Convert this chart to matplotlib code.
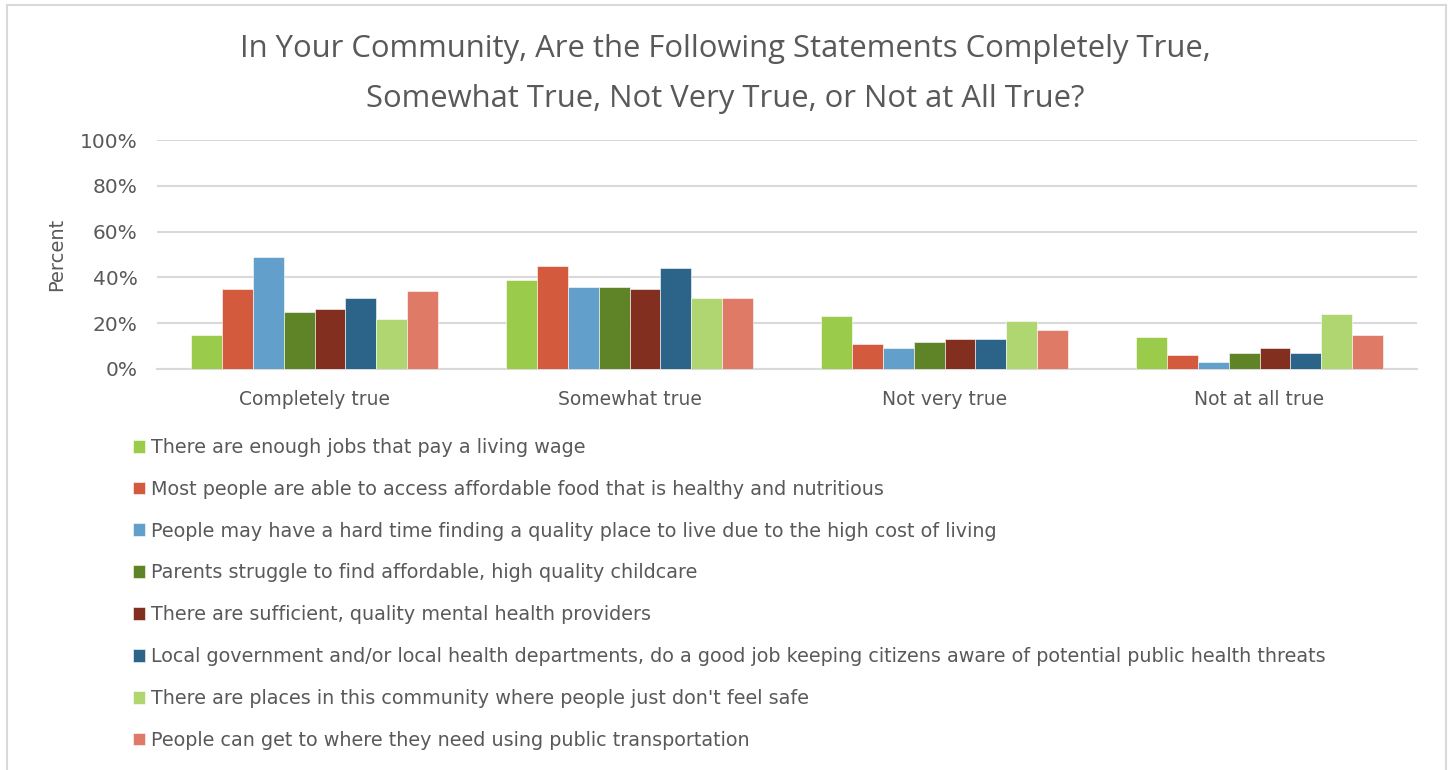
import matplotlib
matplotlib.use('Agg')
import matplotlib.pyplot as plt
from matplotlib.patches import Rectangle
import numpy as np

categories = ['Completely true', 'Somewhat true', 'Not very true', 'Not at all true']
statements = [
    'There are enough jobs that pay a living wage',
    'Most people are able to access affordable food that is healthy and nutritious',
    'People may have a hard time finding a quality place to live due to the high cost of living',
    'Parents struggle to find affordable, high quality childcare',
    'There are sufficient, quality mental health providers',
    'Local government and/or local health departments, do a good job keeping citizens aware of potential public health threats',
    "There are places in this community where people just don't feel safe",
    'People can get to where they need using public transportation',
]
values = [
    [15, 39, 23, 14],
    [35, 45, 11, 6],
    [49, 36, 9, 3],
    [25, 36, 12, 7],
    [26, 35, 13, 9],
    [31, 44, 13, 7],
    [22, 31, 21, 24],
    [34, 31, 17, 15],
]
colors = ['#9BCB4B', '#D45A3E', '#62A0CB', '#5F8427',
          '#832F20', '#2C6389', '#AFD670', '#DE7A66']
yticks = [0, 20, 40, 60, 80, 100]

txt = '#595959'
W, H = 1450, 770
fig = plt.figure(figsize=(W / 100, H / 100), dpi=100)
ax = fig.add_axes([157 / W, 1 - 369 / H, (1417 - 157) / W, (369 - 140) / H])

x = np.arange(len(categories))
bw = 0.098
n = len(statements)
bars = []
for i, (lab, vals, c) in enumerate(zip(statements, values, colors)):
    b = ax.bar(x + (i - (n - 1) / 2) * bw, vals, bw, color=c, label=lab,
               edgecolor='white', linewidth=0.4, zorder=3)
    bars.append(b)

ax.set_xlim(-0.5, len(categories) - 0.5)
ax.set_ylim(0, 100)
ax.set_yticks(yticks)
ax.set_yticklabels([f'{t}%' for t in yticks], fontsize=14.5, color=txt)
ax.set_xticks(x)
ax.set_xticklabels(categories, fontsize=13.5, color=txt)
ax.tick_params(axis='x', length=0, pad=15)
ax.tick_params(axis='y', length=0, pad=14)
ax.grid(axis='y', color='#D9D9D9', linewidth=1.5, zorder=0)
for s in ['top', 'right', 'left']:
    ax.spines[s].set_visible(False)
ax.spines['bottom'].set_color('#D9D9D9')
ax.spines['bottom'].set_linewidth(1.5)
ax.set_ylabel('Percent', fontsize=14, color=txt, labelpad=10)

fig.text(0.5, 1 - 74 / H,
         'In Your Community, Are the Following Statements Completely True,\n'
         'Somewhat True, Not Very True, or Not at All True?',
         ha='center', va='center', fontsize=22.3, color=txt,
         family='Open Sans', linespacing=1.9)

fig.legend(handles=bars, labels=statements, loc='upper left',
           bbox_to_anchor=(133 / W, 1 - 438 / H), frameon=False,
           fontsize=13.8, labelcolor=txt, handlelength=0.65, handleheight=0.65,
           handletextpad=0.3, labelspacing=1.19, borderpad=0, borderaxespad=0)

fig.patches.append(Rectangle((7 / W, -0.01), (1446 - 7) / W, 1 - 5 / H + 0.01,
                             transform=fig.transFigure, fill=False,
                             edgecolor='#D9D9D9', linewidth=1.5))

fig.savefig('out.png', dpi=100, facecolor='white')
